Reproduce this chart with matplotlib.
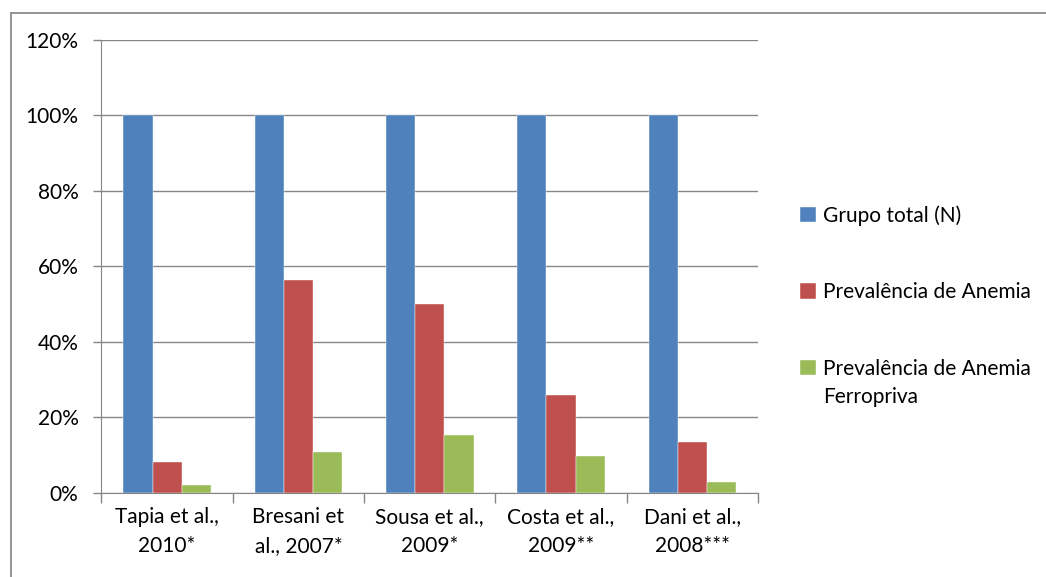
import numpy as np
import matplotlib.pyplot as plt
from matplotlib.patches import Rectangle
from matplotlib.ticker import FixedLocator, PercentFormatter

studies = ["Tapia et al.,\n2010*", "Bresani et\nal., 2007*", "Sousa et al.,\n2009*",
           "Costa et al.,\n2009**", "Dani et al.,\n2008***"]
grupo_total = [100, 100, 100, 100, 100]
anemia = [8.3, 56.5, 50.0, 26.0, 13.5]
ferropriva = [2.2, 10.8, 15.4, 9.8, 2.9]

series_names = ["Grupo total (N)", "Prevalência de Anemia", "Prevalência de Anemia"]
wrap_last = "Ferropriva"  # second line of the last legend entry
colors = ["#4F81BD", "#C0504D", "#9BBB59"]

plt.rcParams['font.family'] = ['Lato', 'DejaVu Sans']
plt.rcParams['font.size'] = 15

fig = plt.figure(figsize=(10.46, 5.77), dpi=100)
ax = fig.add_axes([0.097, 0.1456, 0.6277, 0.7851])

# chart frame
fig.patches.append(Rectangle((11 / 1046, -0.1), 1.2, 1 - 13 / 577 + 0.1,
                             transform=fig.transFigure, fill=False,
                             edgecolor="#8c8c8c", linewidth=1.3))

x = np.arange(len(studies))
w = 1 / 4.5
for i, (vals, name, c) in enumerate(zip([grupo_total, anemia, ferropriva], series_names, colors)):
    ax.bar(x + (i - 1) * w, vals, w, color=c, label=name, zorder=3,
           edgecolor="white", linewidth=0.3)

ax.set_xlim(-0.5, len(studies) - 0.5)
ax.set_ylim(0, 120)
ax.set_yticks(np.arange(0, 121, 20))
ax.yaxis.set_major_formatter(PercentFormatter(decimals=0))
ax.grid(axis="y", color="#868686", linewidth=1, zorder=0)

ax.set_xticks(x)
ax.set_xticklabels(studies, linespacing=1.55)
ax.xaxis.set_minor_locator(FixedLocator(np.arange(-0.5, len(studies), 1)))
ax.tick_params(axis="x", which="major", length=0, pad=10)
ax.tick_params(axis="x", which="minor", length=7, color="#868686", width=1)
ax.tick_params(axis="y", length=6, color="#868686", width=1, pad=10.5)

for side in ["top", "right"]:
    ax.spines[side].set_visible(False)
for side in ["left", "bottom"]:
    ax.spines[side].set_color("#868686")

leg = fig.legend(loc="center left", bbox_to_anchor=(0.757, 0.494), frameon=False,
                 handlelength=0.75, handleheight=0.75, handletextpad=0.35,
                 labelspacing=2.72, borderaxespad=0)

# put the wrapped word under the last legend label
fig.canvas.draw()
bb = leg.get_texts()[-1].get_window_extent().transformed(fig.transFigure.inverted())
fig.text(bb.x0, bb.y0 - 28 / 577, wrap_last, ha="left", va="bottom")

fig.savefig("out.png", dpi=100)
